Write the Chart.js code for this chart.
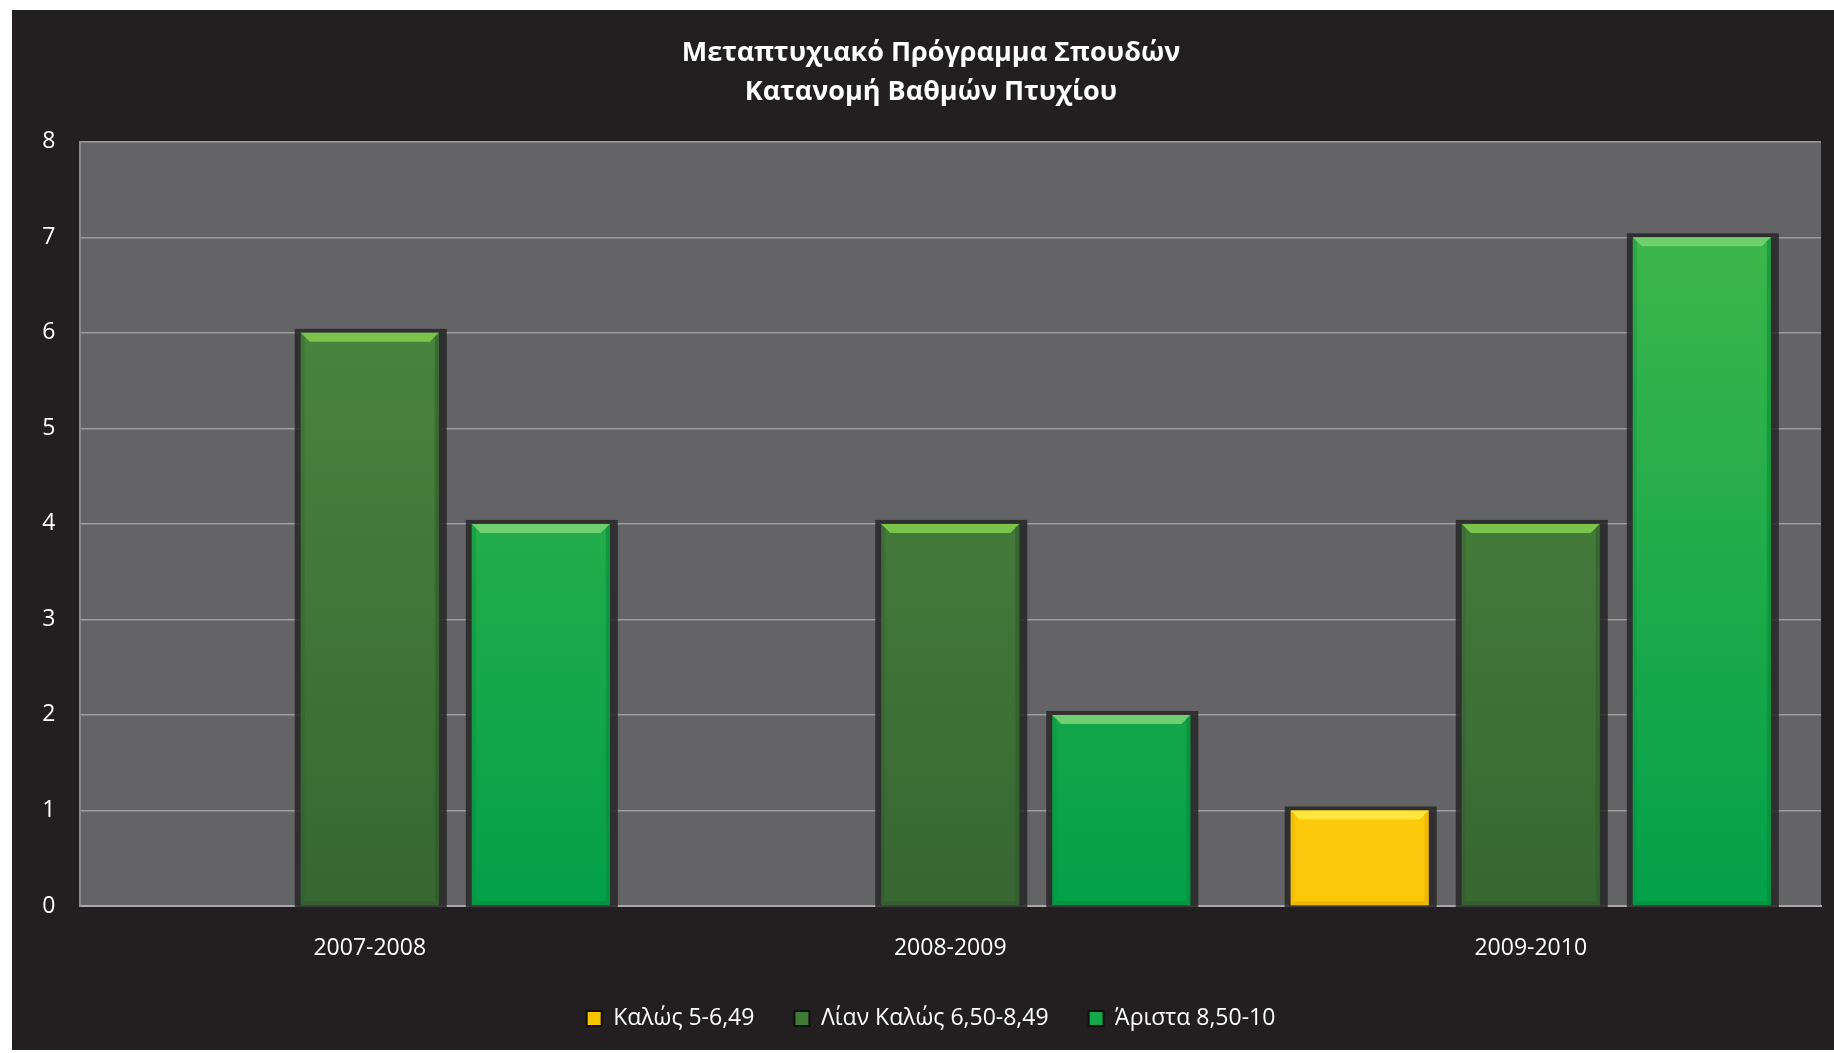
<!DOCTYPE html>
<html>
<head>
<meta charset="utf-8">
<script src="https://cdn.jsdelivr.net/npm/chart.js@4.4.1/dist/chart.umd.min.js"></script>
<style>
  html, body { margin: 0; padding: 0; background: #ffffff; overflow: hidden; }
  #wrap { position: absolute; left: 12px; top: 10px; width: 1840px; height: 1040px; background: #231f20; }
  canvas { display: block; }
</style>
</head>
<body>
<div id="wrap"><canvas id="c" width="1840" height="1040"></canvas></div>
<script>
const categories = ['2007-2008', '2008-2009', '2009-2010'];
const seriesNames = ['Καλώς 5-6,49', 'Λίαν Καλώς 6,50-8,49', 'Άριστα 8,50-10'];
const kalos = [0, 0, 1];
const lianKalos = [6, 4, 4];
const arista = [4, 2, 7];
const yTicks = [0, 1, 2, 3, 4, 5, 6, 7, 8];
const titleLines = ['Μεταπτυχιακό Πρόγραμμα Σπουδών', 'Κατανομή Βαθμών Πτυχίου'];

const palette = [
  { top: '#ffd21a', bottom: '#fcc80a', bevel: '#ffe53c', edge: '#e0a800', legend: '#f7c500' },
  { top: '#4e8f41', bottom: '#386633', bevel: '#7cc34c', edge: '#2f5a2a', legend: '#3f7a38' },
  { top: '#44b94b', bottom: '#03a04a', bevel: '#70d070', edge: '#058a38', legend: '#14a84a' }
];

function grad(ctx, chart, i) {
  const area = chart.chartArea;
  if (!area) return palette[i].top;
  const g = ctx.createLinearGradient(0, area.top, 0, area.bottom);
  g.addColorStop(0, palette[i].top);
  g.addColorStop(1, palette[i].bottom);
  return g;
}

const plotBg = {
  id: 'plotBg',
  beforeDraw(chart) {
    const { ctx, chartArea: a } = chart;
    ctx.save();
    ctx.fillStyle = '#646466';
    ctx.fillRect(a.left, a.top, a.right - a.left, a.bottom - a.top);
    ctx.restore();
  }
};

const barDeco = {
  id: 'barDeco',
  beforeDatasetsDraw(chart) {
    const ctx = chart.ctx;
    ctx.save();
    ctx.fillStyle = 'rgba(38,38,38,0.85)';
    chart.data.datasets.forEach((ds, di) => {
      chart.getDatasetMeta(di).data.forEach((bar, i) => {
        if (!ds.data[i]) return;
        const p = bar.getProps(['x', 'y', 'base', 'width'], true);
        const x0 = p.x - p.width / 2;
        ctx.fillRect(x0 - 6, p.y - 4, p.width + 14, p.base - p.y + 7);
      });
    });
    ctx.restore();
  },
  afterDatasetsDraw(chart) {
    const ctx = chart.ctx;
    ctx.save();
    chart.data.datasets.forEach((ds, di) => {
      const col = palette[di];
      chart.getDatasetMeta(di).data.forEach((bar, i) => {
        if (!ds.data[i]) return;
        const p = bar.getProps(['x', 'y', 'base', 'width'], true);
        const x0 = p.x - p.width / 2, x1 = p.x + p.width / 2, y0 = p.y, y1 = p.base;
        const b = 9;
        ctx.fillStyle = col.bevel;
        ctx.beginPath();
        ctx.moveTo(x0, y0); ctx.lineTo(x1, y0); ctx.lineTo(x1 - b, y0 + b); ctx.lineTo(x0 + b, y0 + b);
        ctx.closePath(); ctx.fill();
        ctx.fillStyle = col.edge;
        ctx.globalAlpha = 0.55;
        ctx.beginPath();
        ctx.moveTo(x1, y0); ctx.lineTo(x1, y1); ctx.lineTo(x1 - 4, y1 - 4); ctx.lineTo(x1 - 4, y0 + 4);
        ctx.closePath(); ctx.fill();
        ctx.beginPath();
        ctx.moveTo(x0, y1); ctx.lineTo(x1, y1); ctx.lineTo(x1 - 4, y1 - 4); ctx.lineTo(x0 + 4, y1 - 4);
        ctx.closePath(); ctx.fill();
        ctx.globalAlpha = 0.3;
        ctx.beginPath();
        ctx.moveTo(x0, y0); ctx.lineTo(x0, y1); ctx.lineTo(x0 + 4, y1 - 4); ctx.lineTo(x0 + 4, y0 + 4);
        ctx.closePath(); ctx.fill();
        ctx.globalAlpha = 1;
      });
    });
    ctx.restore();
  }
};

const seriesData = [kalos, lianKalos, arista];

new Chart(document.getElementById('c'), {
  type: 'bar',
  data: {
    labels: categories,
    datasets: seriesNames.map((name, i) => ({
      label: name,
      data: seriesData[i],
      backgroundColor: (c) => grad(c.chart.ctx, c.chart, i),
      borderWidth: 0,
      categoryPercentage: 0.884,
      barPercentage: 0.807
    }))
  },
  options: {
    responsive: false,
    animation: false,
    layout: { padding: { left: 29, right: 31, top: 0, bottom: 10 } },
    plugins: {
      title: {
        display: true,
        text: titleLines,
        color: '#ffffff',
        font: { family: 'Open Sans', size: 27, weight: 'bold', lineHeight: 1.45 },
        padding: { top: 24, bottom: 29.5 }
      },
      legend: {
        position: 'bottom',
        labels: {
          color: '#ffffff',
          font: { family: 'Open Sans', size: 23 },
          boxWidth: 15,
          boxHeight: 15,
          padding: 40,
          generateLabels: (chart) => chart.data.datasets.map((ds, i) => ({
            text: ds.label,
            fillStyle: palette[i].legend,
            strokeStyle: '#0e0e0e',
            lineWidth: 2,
            fontColor: '#ffffff',
            datasetIndex: i
          }))
        }
      },
      tooltip: { enabled: false }
    },
    scales: {
      x: {
        afterFit: (s) => { s.height = 61; },
        grid: { display: false, drawTicks: false },
        border: { display: true, color: '#a9a9a9', width: 2 },
        ticks: { color: '#ffffff', font: { family: 'Open Sans', size: 23 }, padding: 29 }
      },
      y: {
        min: 0,
        max: 8,
        afterFit: (s) => { s.width = 38.5; },
        afterBuildTicks: (s) => { s.ticks = yTicks.map(v => ({ value: v })); },
        grid: { color: '#9c9c9c', lineWidth: 1.5, drawTicks: false },
        border: { display: true, color: '#8a8a8a', width: 2 },
        ticks: { color: '#ffffff', font: { family: 'Open Sans', size: 23 }, padding: 24 }
      }
    }
  },
  plugins: [plotBg, barDeco]
});
</script>
</body>
</html>
